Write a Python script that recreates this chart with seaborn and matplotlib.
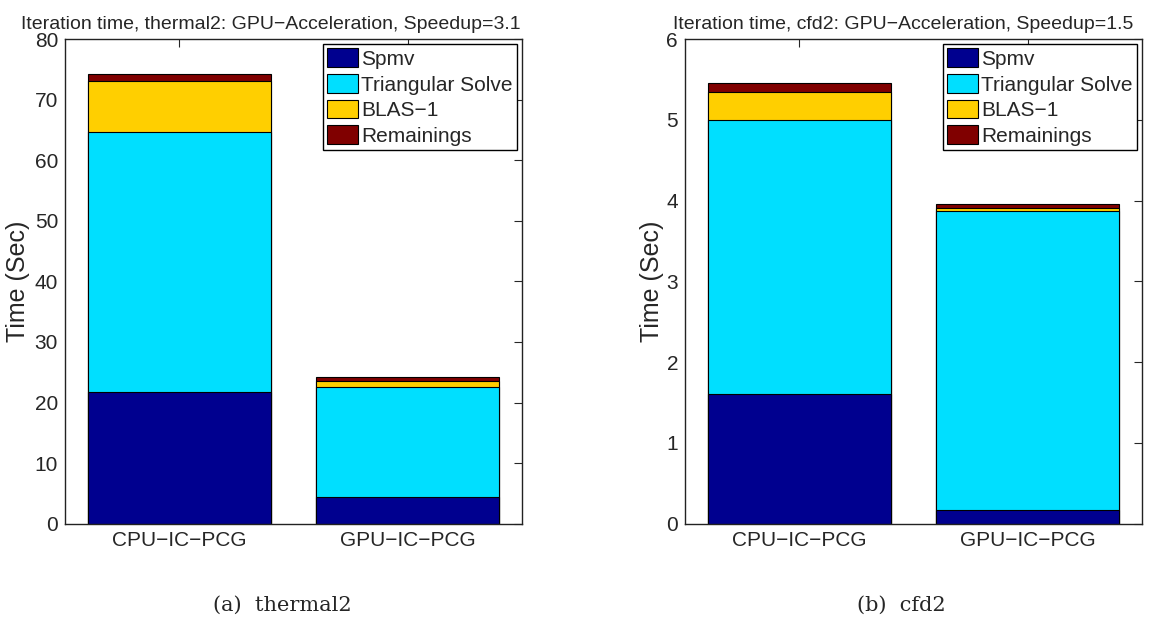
import numpy as np
import pandas as pd
import matplotlib
matplotlib.use("Agg")
import matplotlib.pyplot as plt
import seaborn as sns
from matplotlib.patches import Patch

sns.set_style("white")
plt.rcParams['font.family'] = ['Liberation Sans', 'DejaVu Sans']

categories = ["CPU\u2212IC\u2212PCG", "GPU\u2212IC\u2212PCG"]
components = ["Spmv", "Triangular Solve", "BLAS\u22121", "Remainings"]
colors = ["#00008F", "#00DFFF", "#FFCF00", "#800000"]

thermal2_spmv = [21.8, 4.45]
thermal2_tri = [42.8, 18.05]
thermal2_blas = [8.5, 1.0]
thermal2_rem = [1.1, 0.7]

cfd2_spmv = [1.60, 0.166]
cfd2_tri = [3.40, 3.70]
cfd2_blas = [0.35, 0.04]
cfd2_rem = [0.11, 0.055]

panels = [
    ("Iteration time, thermal2: GPU\u2212Acceleration, Speedup=3.1",
     [thermal2_spmv, thermal2_tri, thermal2_blas, thermal2_rem], 80, 10, "(a)  thermal2"),
    ("Iteration time, cfd2: GPU\u2212Acceleration, Speedup=1.5",
     [cfd2_spmv, cfd2_tri, cfd2_blas, cfd2_rem], 6, 1, "(b)  cfd2"),
]

fig = plt.figure(figsize=(11.74, 6.36), dpi=100)
W, H = 1174, 636
axes_rects = [
    [65 / W, 1 - 523.7 / H, 457 / W, 484.7 / H],
    [685 / W, 1 - 523.7 / H, 457 / W, 484.7 / H],
]
caption_x = [282 / W, 901 / W]
title_x = [0.451, 0.477]
ylabel_x = [-0.077, -0.046]

for (title, series, ymax, ystep, caption), rect, cx, tx, lx in zip(
        panels, axes_rects, caption_x, title_x, ylabel_x):
    ax = fig.add_axes(rect)
    cum = np.cumsum(np.array(series), axis=0)
    for i in range(len(components) - 1, -1, -1):
        df = pd.DataFrame({"cat": categories, "val": cum[i]})
        sns.barplot(data=df, x="cat", y="val", color=colors[i], width=0.8,
                    edgecolor="black", linewidth=0.8, saturation=1, ax=ax)
    ax.set_xlim(-0.5, 1.5)
    ax.set_ylim(0, ymax)
    ax.set_yticks(np.arange(0, ymax + ystep / 2, ystep))
    ax.set_xlabel("")
    ax.set_ylabel("Time (Sec)", fontsize=18)
    ax.yaxis.set_label_coords(lx, 0.5)
    ax.set_title(title, fontsize=14, pad=7, x=tx)
    ax.tick_params(axis="both", which="both", direction="in", length=6,
                   top=True, right=True, labelsize=15, width=0.8, pad=5)
    for sp in ax.spines.values():
        sp.set_visible(True)
        sp.set_color("#222222")
        sp.set_linewidth(1.0)
    handles = [Patch(facecolor=c, edgecolor="black", linewidth=0.8) for c in colors]
    leg = ax.legend(handles, components, loc="upper right", fontsize=15,
                    frameon=True, fancybox=False, edgecolor="black",
                    borderpad=0.2, labelspacing=0.25, handlelength=1.5,
                    handleheight=1.0, handletextpad=0.15, borderaxespad=0.25,
                    framealpha=1)
    leg.get_frame().set_linewidth(1.0)
    fig.text(cx, 1 - 605 / H, caption, ha="center", va="center",
             fontsize=15, family="DejaVu Serif")

fig.savefig("out.png", dpi=100)
